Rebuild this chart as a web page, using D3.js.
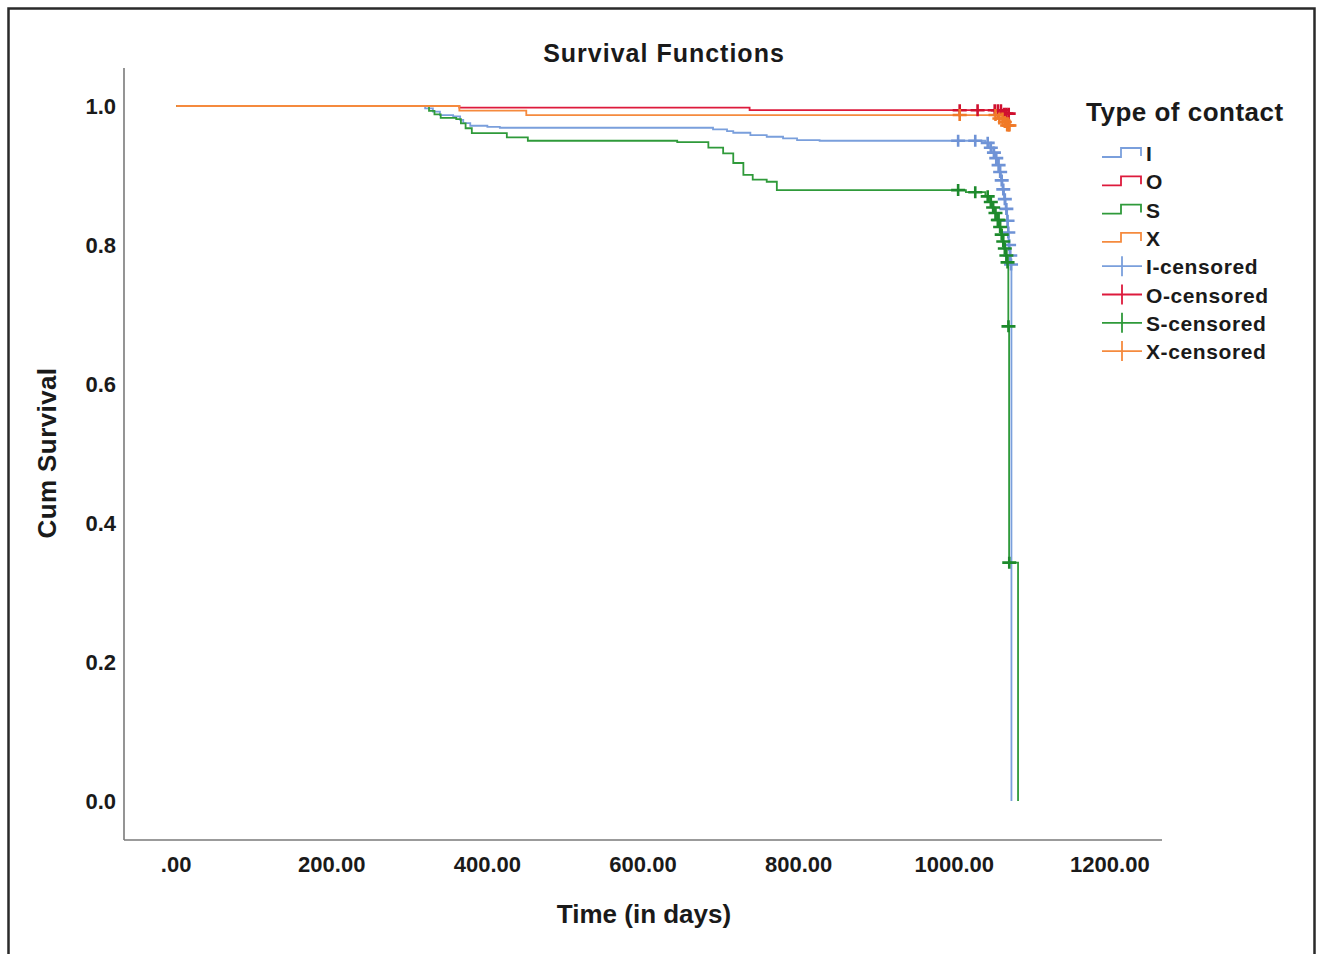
<!DOCTYPE html>
<html>
<head>
<meta charset="utf-8">
<script src="https://cdn.jsdelivr.net/npm/d3@7"></script>
<style>
  body { margin: 0; background: #fff; }
  text { font-family: "Liberation Sans", Arial, sans-serif; fill: #1a1a1a; }
</style>
</head>
<body>
<div id="chart"></div>
<script>
// Kaplan-Meier steps: [time, survival after the step]
let iTimes = [320, 330, 339, 356, 365, 369, 378, 400, 416, 690, 708, 716, 738, 759, 780, 798, 827,
  1040, 1046, 1050, 1053, 1056, 1058, 1060, 1062, 1064, 1066, 1068, 1069, 1070, 1071, 1072.5, 1073.5];
let iSurv = [0.9967, 0.9918, 0.987, 0.985, 0.98, 0.9755, 0.9716, 0.97, 0.9687, 0.9663, 0.964, 0.9615, 0.958, 0.9558, 0.9535, 0.951, 0.95,
  0.947, 0.94, 0.933, 0.925, 0.915, 0.905, 0.893, 0.88, 0.866, 0.852, 0.835, 0.818, 0.8, 0.785, 0.772, 0];
let iCens = [1005, 1027, 1043, 1047, 1051, 1054, 1057, 1059, 1061, 1063, 1065, 1067, 1068.5, 1069.5, 1070.5, 1072, 1073];

let oTimes = [364, 737, 1062];
let oSurv = [0.9977, 0.994, 0.989];
let oCens = [1007, 1030, 1052, 1056, 1060, 1064, 1067, 1070];

let sTimes = [325, 332, 340, 360, 366, 372, 380, 425, 452, 644, 684, 703, 716, 729, 741, 759, 772,
  1015, 1040, 1045, 1049, 1052, 1055, 1058, 1060, 1062, 1064, 1066, 1068, 1069.5, 1070.5, 1082];
let sSurv = [0.993, 0.988, 0.983, 0.981, 0.975, 0.968, 0.961, 0.955, 0.95, 0.948, 0.94, 0.932, 0.918, 0.901, 0.894, 0.891, 0.879,
  0.876, 0.87, 0.862, 0.854, 0.846, 0.836, 0.826, 0.815, 0.805, 0.795, 0.785, 0.775, 0.683, 0.343, 0];
let sCens = [1005, 1027, 1043, 1047, 1050, 1053, 1056, 1057, 1059, 1061, 1063, 1065, 1067, 1068.5, 1069.7, 1070.7];

let xTimes = [364, 450, 1056, 1063, 1067];
let xSurv = [0.9935, 0.987, 0.982, 0.977, 0.972];
let xCens = [1007, 1053, 1058, 1062, 1065, 1068, 1070, 1071];

let groupNames = ["I", "O", "S", "X"];
let groupColors = ["#7a9fdc", "#dd1a3c", "#2f9a3a", "#f58a3e"];
let censColors = ["#6f93d6", "#d0102f", "#1d8a2c", "#f07a28"];

let xTicks = [0, 200, 400, 600, 800, 1000, 1200];
let yTicks = [0, 0.2, 0.4, 0.6, 0.8, 1.0];

let svgWidth = 1323;
let svgHeight = 954;

let svg = d3
  .select("#chart")
  .append("svg")
  .attr("width", svgWidth)
  .attr("height", svgHeight);

// frame round the whole chart (bottom edge is cut off in the source)
svg
  .append("path")
  .attr("d", "M8.5,960 L8.5,8.5 L1314.5,8.5 L1314.5,960")
  .attr("fill", "none")
  .attr("stroke", "#2a2a2a")
  .attr("stroke-width", 2.5);

// scales: axis box runs x 124..1162, y 68..840
let xScale = d3.scaleLinear().domain([-67, 1267]).range([124, 1162]);
let yScale = d3.scaleLinear().domain([-0.0561, 1.0547]).range([840, 68]);

// axis lines
svg.append("line")
  .attr("x1", 124).attr("x2", 124).attr("y1", 68).attr("y2", 840)
  .attr("stroke", "#7a7a7a").attr("stroke-width", 1.6);
svg.append("line")
  .attr("x1", 124).attr("x2", 1162).attr("y1", 840).attr("y2", 840)
  .attr("stroke", "#7a7a7a").attr("stroke-width", 1.6);

// tick labels
svg.selectAll(".ytick")
  .data(yTicks)
  .enter()
  .append("text")
  .attr("class", "ytick")
  .attr("x", 116)
  .attr("y", d => yScale(d) + 8)
  .attr("text-anchor", "end")
  .attr("font-size", 22)
  .attr("font-weight", "bold")
  .text(d => d3.format(".1f")(d));

svg.selectAll(".xtick")
  .data(xTicks)
  .enter()
  .append("text")
  .attr("class", "xtick")
  .attr("x", d => xScale(d))
  .attr("y", 872)
  .attr("text-anchor", "middle")
  .attr("font-size", 22)
  .attr("font-weight", "bold")
  .text(d => d === 0 ? ".00" : d3.format(".2f")(d));

// titles
svg.append("text")
  .attr("x", 664).attr("y", 62)
  .attr("text-anchor", "middle")
  .attr("font-size", 25)
  .attr("font-weight", "bold")
  .attr("letter-spacing", 1)
  .text("Survival Functions");

svg.append("text")
  .attr("x", 644).attr("y", 923)
  .attr("text-anchor", "middle")
  .attr("font-size", 26)
  .attr("font-weight", "bold")
  .text("Time (in days)");

svg.append("text")
  .attr("transform", "translate(56, 453) rotate(-90)")
  .attr("text-anchor", "middle")
  .attr("font-size", 26)
  .attr("font-weight", "bold")
  .attr("letter-spacing", 0.4)
  .text("Cum Survival");

// build curves
let series = [
  { times: iTimes, surv: iSurv, cens: iCens },
  { times: oTimes, surv: oSurv, cens: oCens },
  { times: sTimes, surv: sSurv, cens: sCens },
  { times: xTimes, surv: xSurv, cens: xCens }
];

function survAt(s, t) {
  let v = 1;
  s.times.forEach(function(tt, i) {
    if (tt <= t) v = s.surv[i];
  });
  return v;
}

let line = d3.line()
  .x(d => xScale(d[0]))
  .y(d => yScale(d[1]))
  .curve(d3.curveStepAfter);

let plot = svg.append("g");

series.forEach(function(s, k) {
  let pts = [[0, 1]];
  s.times.forEach(function(t, i) {
    pts.push([t, s.surv[i]]);
  });
  let lastT = Math.max(d3.max(s.times), d3.max(s.cens));
  if (pts[pts.length - 1][0] < lastT) {
    pts.push([lastT, pts[pts.length - 1][1]]);
  }

  plot.append("path")
    .datum(pts)
    .attr("fill", "none")
    .attr("stroke", groupColors[k])
    .attr("stroke-width", 1.8)
    .attr("d", line);
});

// censor marks drawn on top
series.forEach(function(s, k) {
  let g = plot.append("g");
  s.cens.forEach(function(t) {
    let cx = xScale(t);
    let cy = yScale(survAt(s, t));
    g.append("path")
      .attr("d", `M${cx - 7},${cy} L${cx + 7},${cy} M${cx},${cy - 6} L${cx},${cy + 6}`)
      .attr("stroke", censColors[k])
      .attr("stroke-width", 2.6)
      .attr("fill", "none");
  });
});

// legend
let legend = svg.append("g");

legend.append("text")
  .attr("x", 1086).attr("y", 121)
  .attr("font-size", 26)
  .attr("font-weight", "bold")
  .attr("letter-spacing", 0.5)
  .text("Type of contact");

let legendY0 = 153;
let legendStep = 28.3;

groupNames.forEach(function(name, k) {
  let y = legendY0 + k * legendStep;
  legend.append("path")
    .attr("d", `M1102,${y + 4} L1121,${y + 4} L1121,${y - 5} L1141,${y - 5} L1141,${y + 3}`)
    .attr("fill", "none")
    .attr("stroke", groupColors[k])
    .attr("stroke-width", 1.8);
  legend.append("text")
    .attr("x", 1146).attr("y", y + 8)
    .attr("font-size", 21)
    .attr("font-weight", "bold")
    .text(name);
});

groupNames.forEach(function(name, k) {
  let y = legendY0 + (k + 4) * legendStep;
  legend.append("path")
    .attr("d", `M1102,${y} L1142,${y} M1122,${y - 10} L1122,${y + 10}`)
    .attr("fill", "none")
    .attr("stroke", groupColors[k])
    .attr("stroke-width", 1.8);
  legend.append("text")
    .attr("x", 1146).attr("y", y + 8)
    .attr("font-size", 21)
    .attr("font-weight", "bold")
    .attr("letter-spacing", 0.6)
    .text(name + "-censored");
});
</script>
</body>
</html>
